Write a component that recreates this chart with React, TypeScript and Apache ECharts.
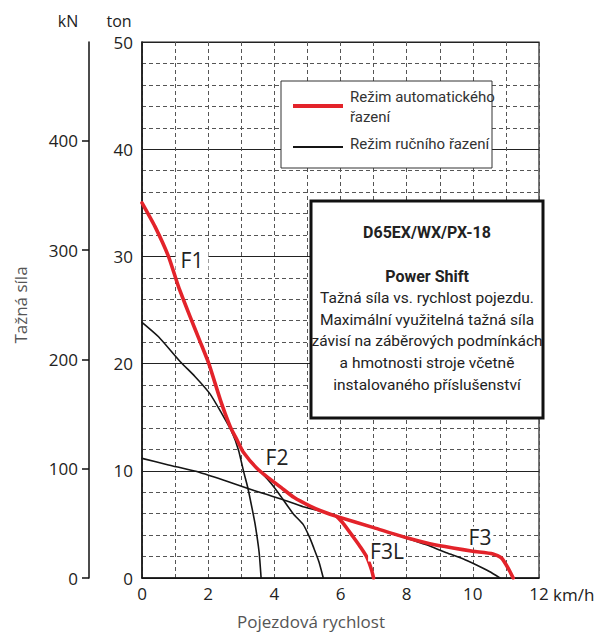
import React, { useEffect, useRef } from "react";
import * as echarts from "echarts";

const KN_PER_TON = 9.80665;
const TON_MAX = 50;
const SPEED_MAX = 12;
const knTicks = [0, 100, 200, 300, 400];

// Automatic shift mode (red): F1 -> F2 -> F3
const autoMain: [number, number][] = [
  [0, 35.0], [0.39, 32.8], [0.8, 30.0], [1.1, 27.2], [1.45, 24.4], [1.75, 22.1],
  [2.02, 20.0], [2.37, 16.6], [2.67, 14.1], [2.87, 12.9], [3.07, 11.7], [3.52, 10.1],
  [4.22, 8.4], [4.6, 7.5], [5.08, 6.7], [5.38, 6.3], [5.88, 5.75], [7.0, 4.7],
  [8.0, 3.75], [8.7, 3.2], [9.4, 2.8], [10.0, 2.5], [10.61, 2.25], [10.87, 1.85],
  [11.07, 0.9], [11.22, 0],
];
// Automatic shift mode (red): F3L branch
const autoF3L: [number, number][] = [
  [5.88, 5.75], [6.08, 5.1], [6.38, 3.85], [6.6, 2.9], [6.79, 1.98], [6.94, 0.75], [7.0, 0],
];
// Manual shift mode (black)
const manualF1: [number, number][] = [
  [0, 23.85], [0.5, 22.5], [1.15, 20.2], [1.6, 18.8], [2.05, 17.2], [2.4, 15.4],
  [2.72, 13.6], [2.92, 11.9], [3.07, 9.95], [3.2, 8.4], [3.32, 6.6], [3.42, 5.0],
  [3.54, 2.4], [3.6, 0],
];
const manualF2: [number, number][] = [
  [2.72, 13.6], [2.87, 12.9], [3.07, 11.7], [3.52, 10.1], [3.8, 9.2], [4.0, 8.45],
  [4.27, 7.3], [4.57, 6.0], [4.87, 5.0], [5.05, 3.9], [5.18, 2.9], [5.35, 1.5], [5.48, 0],
];
const manualF3: [number, number][] = [
  [0, 11.16], [0.8, 10.55], [1.75, 9.85], [2.5, 9.1], [3.16, 8.4], [3.7, 7.85],
  [4.27, 7.3], [4.87, 6.65], [5.38, 6.25], [5.88, 5.72], [7.0, 4.68], [8.0, 3.72],
  [8.6, 3.1], [9.2, 2.35], [9.7, 1.8], [10.11, 1.21], [10.5, 0.6], [10.82, 0],
];

const legendTexts = ["Režim automatického\nřazení", "Režim ručního řazení"];
const boxTitle = "D65EX/WX/PX-18";
const boxSubtitle = "Power Shift";
const boxLines = [
  "Tažná síla vs. rychlost pojezdu.",
  "Maximální využitelná tažná síla",
  "závisí na záběrových podmínkách",
  "a hmotnosti stroje včetně",
  "instalovaného příslušenství",
];

const FONT = "'Open Sans', 'Noto Sans', sans-serif";
const NARROW = "Roboto, 'Noto Sans', sans-serif";
const RED = "#e3232a";
const BLACK = "#151515";

function txt(x: number, y: number, text: string, opts: any = {}) {
  const align = opts.align || "center";
  const va = opts.verticalAlign || "middle";
  return {
    type: "text",
    x,
    y,
    z: 60,
    rotation: opts.rotation || 0,
    style: {
      text,
      fill: opts.fill || "#222",
      fontSize: opts.fontSize || 16,
      fontFamily: opts.fontFamily || FONT,
      fontWeight: opts.fontWeight || "normal",
      align,
      textAlign: align,
      verticalAlign: va,
      textVerticalAlign: va,
      lineHeight: opts.lineHeight,
      backgroundColor: opts.backgroundColor,
      padding: opts.padding,
    },
  };
}

export default function App() {
  const ref = useRef<HTMLDivElement>(null);
  useEffect(() => {
    if (!ref.current) return;
    const chart = echarts.init(ref.current, undefined, { renderer: "svg" });
    const dashed = { color: "#555", width: 1, type: [4, 3] as any };
    const lineSeries = (name: string, data: [number, number][], color: string, width: number, z: number) => ({
      name,
      type: "line",
      data,
      showSymbol: false,
      smooth: 0.2,
      lineStyle: { color, width, cap: "round", join: "round" },
      z,
      silent: true,
    });
    const boxX = 311, boxY = 201, boxW = 232, boxH = 217;
    const cx = boxX + boxW / 2;
    chart.setOption({
      animation: false,
      grid: {
        left: 142, top: 42, right: 56, bottom: 54,
        show: true, borderColor: "#222", borderWidth: 1.2, containLabel: false,
      },
      xAxis: {
        type: "value", min: 0, max: SPEED_MAX, interval: 2,
        axisLine: { show: true, lineStyle: { color: "#111", width: 1.5 } },
        axisTick: { show: false },
        axisLabel: { color: "#222", fontSize: 17, fontFamily: FONT, margin: 7 },
        splitLine: { show: true, lineStyle: dashed },
        minorTick: { show: false, splitNumber: 2 },
        minorSplitLine: { show: true, lineStyle: dashed },
      },
      yAxis: [
        {
          type: "value", min: 0, max: TON_MAX, interval: 10, position: "left",
          axisLine: { show: true, lineStyle: { color: "#111", width: 1.5 } },
          axisTick: { show: false },
          axisLabel: { color: "#222", fontSize: 17, fontFamily: FONT, margin: 9 },
          splitLine: { show: true, lineStyle: { color: "#222", width: 1.2 } },
          minorTick: { show: false, splitNumber: 5 },
          minorSplitLine: { show: true, lineStyle: dashed },
        },
        {
          type: "value", min: 0, max: TON_MAX * KN_PER_TON, position: "left", offset: 53,
          axisLine: { show: true, onZero: false, lineStyle: { color: "#111", width: 1.5 } },
          axisTick: { show: true, inside: false, length: 7, customValues: knTicks, lineStyle: { color: "#111", width: 1.5 } },
          axisLabel: { color: "#222", fontSize: 17, fontFamily: FONT, margin: 11, customValues: knTicks },
          splitLine: { show: false },
        },
      ],
      series: [
        lineSeries("Režim ručního řazení F1", manualF1, BLACK, 1.6, 3),
        lineSeries("Režim ručního řazení F2", manualF2, BLACK, 1.6, 3),
        lineSeries("Režim ručního řazení F3", manualF3, BLACK, 1.6, 3),
        lineSeries("Režim automatického řazení", autoMain, RED, 3.6, 4),
        lineSeries("Režim automatického řazení F3L", autoF3L, RED, 3.6, 4),
      ],
      graphic: [
        txt(68, 21, "kN", { fontSize: 16 }),
        txt(119, 21, "ton", { fontSize: 16 }),
        txt(20, 305, "Tažná síla", { fontSize: 17, fill: "#555", rotation: Math.PI / 2 }),
        txt(311, 621, "Pojezdová rychlost", { fontSize: 17, fill: "#555" }),
        txt(553, 594, "km/h", { fontSize: 17, align: "left" }),
        txt(192, 260, "F1", { fontSize: 21, backgroundColor: "#fff", padding: [0, 5] }),
        txt(277, 457, "F2", { fontSize: 21, backgroundColor: "#fff", padding: [0, 2] }),
        txt(387, 551, "F3L", { fontSize: 21, backgroundColor: "#fff", padding: [0, 2] }),
        txt(480, 537, "F3", { fontSize: 21, backgroundColor: "#fff", padding: [0, 2] }),
        // legend
        {
          type: "rect", z: 55, x: 281, y: 81,
          shape: { x: 0, y: 0, width: 211, height: 87 },
          style: { fill: "#fff", stroke: "#333", lineWidth: 1 },
        },
        { type: "line", z: 56, shape: { x1: 293, y1: 106, x2: 343, y2: 106 }, style: { stroke: RED, lineWidth: 4 } },
        { type: "line", z: 56, shape: { x1: 293, y1: 147, x2: 343, y2: 147 }, style: { stroke: BLACK, lineWidth: 2 } },
        txt(350, 106.5, legendTexts[0], { align: "left", fontSize: 15, fontFamily: NARROW, fill: "#333", lineHeight: 20 }),
        txt(350, 144, legendTexts[1], { align: "left", fontSize: 15, fontFamily: NARROW, fill: "#333" }),
        // info box
        {
          type: "rect", z: 55, x: boxX, y: boxY,
          shape: { x: 0, y: 0, width: boxW, height: boxH },
          style: { fill: "#fff", stroke: "#111", lineWidth: 3 },
        },
        txt(cx, 232, boxTitle, { fontSize: 16, fontWeight: "bold", fontFamily: NARROW, fill: "#222" }),
        txt(cx, 276.5, boxSubtitle, { fontSize: 16, fontWeight: "bold", fontFamily: NARROW, fill: "#222" }),
        ...boxLines.map((l, i) => txt(cx, 298 + i * 21.7, l, { fontSize: 15.5, fontFamily: NARROW, fill: "#222" })),
      ],
    });
    return () => chart.dispose();
  }, []);
  return (
    <div
      ref={ref}
      style={{ position: "fixed", left: 0, top: 0, width: 595, height: 632, background: "#fff" }}
    />
  );
}
